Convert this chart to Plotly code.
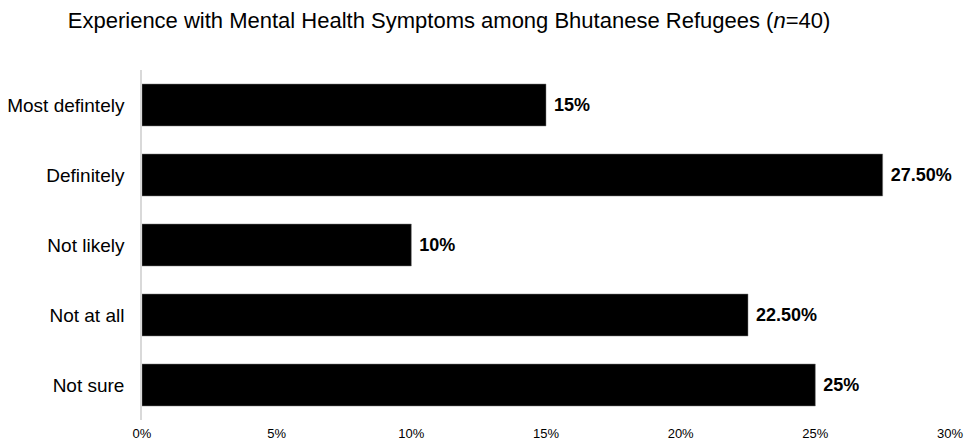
import plotly.graph_objects as go

categories = ["Most defintely", "Definitely", "Not likely", "Not at all", "Not sure"]
values = [0.15, 0.275, 0.10, 0.225, 0.25]
value_labels = ["15%", "27.50%", "10%", "22.50%", "25%"]
tick_vals = [0, 0.05, 0.10, 0.15, 0.20, 0.25, 0.30]
tick_text = ["0%", "5%", "10%", "15%", "20%", "25%", "30%"]

font_family = "Liberation Sans, Arial, sans-serif"

fig = go.Figure(go.Bar(
    y=categories,
    x=values,
    orientation="h",
    marker=dict(color="#000000", line=dict(color="#7f7f7f", width=0.5)),
    width=0.6,
    text=[" " + t for t in value_labels],
    textposition="outside",
    textfont=dict(family=font_family, size=18, color="#000000", weight="bold"),
    cliponaxis=False,
))

fig.update_layout(
    width=968, height=442,
    margin=dict(l=142, r=18, t=70, b=22),
    paper_bgcolor="white", plot_bgcolor="white",
    showlegend=False,
    title=dict(
        text="Experience with Mental Health Symptoms among Bhutanese Refugees (<i>n</i>=40)",
        x=0.38, xanchor="center", xref="paper", y=0.955, yanchor="middle",
        font=dict(family=font_family, size=22, color="#000000"),
    ),
    font=dict(family=font_family, color="#000000"),
)

fig.update_xaxes(
    range=[0, 0.30], tickvals=tick_vals, ticktext=tick_text,
    showgrid=False, zeroline=False, showline=False,
    tickfont=dict(family=font_family, size=13, color="#000000"),
    ticks="", ticklabelstandoff=4, automargin=False,
)
fig.update_yaxes(
    categoryorder="array", categoryarray=categories[::-1],
    range=[-0.5, 4.5],
    showgrid=False, zeroline=False,
    showline=True, linecolor="#d9d9d9", linewidth=1.5,
    ticks="", ticklabelstandoff=12, automargin=False,
    tickfont=dict(family=font_family, size=19, color="#000000"),
)

fig.write_html("out.html")
